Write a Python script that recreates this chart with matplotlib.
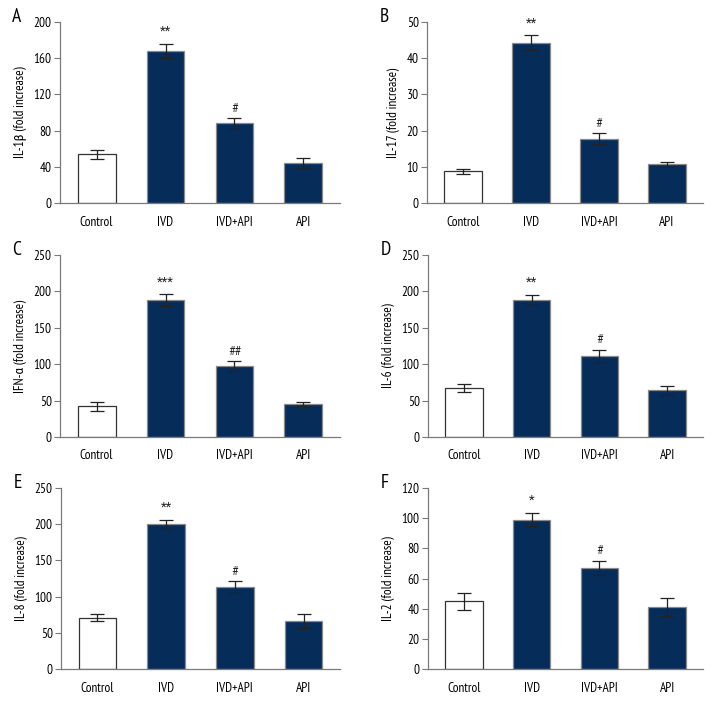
import matplotlib
matplotlib.use("Agg")
import matplotlib.pyplot as plt

plt.rcParams['font.family'] = ['PT Sans Narrow', 'Roboto Condensed', 'DejaVu Sans']

groups = ["Control", "IVD", "IVD+API", "API"]

# panel data: means, error bars, significance marks
il1b_mean = [54, 168, 88, 44]
il1b_err = [5, 8, 6, 5.5]
il1b_mark = ["", "**", "#", ""]

il17_mean = [8.8, 44.3, 17.8, 10.7]
il17_err = [0.7, 2.0, 1.4, 0.7]
il17_mark = ["", "**", "#", ""]

ifna_mean = [42, 188, 97, 45]
ifna_err = [6, 8, 7, 3]
ifna_mark = ["", "***", "##", ""]

il6_mean = [67, 188, 111, 64]
il6_err = [5.5, 7, 9, 6.5]
il6_mark = ["", "**", "#", ""]

il8_mean = [71, 200, 113, 66]
il8_err = [5, 6, 8, 10]
il8_mark = ["", "**", "#", ""]

il2_mean = [45, 99, 67, 41]
il2_err = [5.7, 4.4, 4.8, 6]
il2_mark = ["", "*", "#", ""]

panels = [
    ("A", "IL-1β (fold increase)", 200, 40, il1b_mean, il1b_err, il1b_mark),
    ("B", "IL-17 (fold increase)", 50, 10, il17_mean, il17_err, il17_mark),
    ("C", "IFN-α (fold increase)", 250, 50, ifna_mean, ifna_err, ifna_mark),
    ("D", "IL-6 (fold increase)", 250, 50, il6_mean, il6_err, il6_mark),
    ("E", "IL-8 (fold increase)", 250, 50, il8_mean, il8_err, il8_mark),
    ("F", "IL-2 (fold increase)", 120, 20, il2_mean, il2_err, il2_mark),
]

navy = "#062c5a"
spine_col = "#7a7a7a"

W, H = 720, 708
fig = plt.figure(figsize=(W / 100, H / 100), dpi=100)

# axes boxes in pixels: left, top, right, bottom
boxes = [
    (60, 22, 340, 203), (427, 22, 703, 203),
    (60, 255, 340, 437), (428, 255, 703, 437),
    (61, 488, 340, 669), (428, 488, 703, 669),
]

for (letter, ylab, ymax, ystep, means, errs, marks), (l, t, r, b) in zip(panels, boxes):
    ax = fig.add_axes([l / W, 1 - b / H, (r - l) / W, (b - t) / H])
    x = range(len(groups))
    colors = ["white"] + [navy] * 3
    edges = ["#333333"] + ["#8a8a8a"] * 3
    ax.bar(x, means, width=0.55, color=colors, edgecolor=edges, linewidth=0.9, zorder=2)
    ax.errorbar(x, means, yerr=errs, fmt="none", ecolor="#222222", elinewidth=0.9,
                capsize=5, capthick=0.9, zorder=3)
    for xi, m, e, mk in zip(x, means, errs, marks):
        if mk:
            big = mk.startswith("*")
            ax.annotate(mk, (xi, m + e), xytext=(0, 9 if big else 7),
                        textcoords="offset points", ha="center", va="center",
                        fontsize=9.5 if big else 8.5, color="#222222",
                        family=["Roboto Condensed", "DejaVu Sans"])
    ax.set_xlim(-0.53, 3.53)
    ax.set_ylim(0, ymax)
    ax.set_yticks(range(0, ymax + 1, ystep))
    ax.set_xticks(list(x))
    ax.set_xticklabels(groups)
    ax.spines["top"].set_visible(False)
    ax.spines["right"].set_visible(False)
    for s in ("left", "bottom"):
        ax.spines[s].set_color(spine_col)
        ax.spines[s].set_linewidth(0.9)
    ax.tick_params(axis="y", direction="out", length=4, width=0.8, color=spine_col,
                   labelsize=9.5, pad=2)
    ax.tick_params(axis="x", length=0, labelsize=9.5, pad=9)
    ax.set_ylabel(ylab, fontsize=9.5, labelpad=5)
    ax.text(-0.17, 1.03, letter, transform=ax.transAxes, fontsize=14, ha="left", va="center")

fig.savefig("out.png", dpi=100)
